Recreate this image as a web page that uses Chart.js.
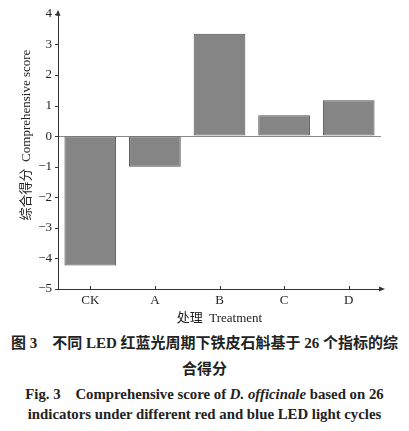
<!DOCTYPE html>
<html>
<head>
<meta charset="utf-8">
<script src="https://cdn.jsdelivr.net/npm/chart.js@4.4.0/dist/chart.umd.min.js"></script>
<style>
  html, body { margin: 0; padding: 0; background: #fff; }
  #wrap { position: relative; width: 409px; height: 431px; overflow: hidden; }
  #box { position: absolute; left: 0; top: 0; width: 409px; height: 330px; }
  .cap { position: absolute; left: 0; width: 409px; text-align: center; color: #222;
         font-family: "Liberation Serif", "Noto Sans CJK SC", serif; font-weight: bold; white-space: nowrap; }
  .zh { font-size: 15px; }
  .en { font-size: 14.8px; }
</style>
</head>
<body>
<div id="wrap">
  <div id="box"><canvas id="chart"></canvas></div>
  <div class="cap zh" style="top:331px">图 3　不同 LED 红蓝光周期下铁皮石斛基于 26 个指标的综</div>
  <div class="cap zh" style="top:357px">合得分</div>
  <div class="cap en" style="top:382px">Fig. 3　Comprehensive score of <i>D. officinale</i> based on 26</div>
  <div class="cap en" style="top:406px">indicators under different red and blue LED light cycles</div>
</div>
<script>
// data
const treatments = ['CK', 'A', 'B', 'C', 'D'];
const scores = [-4.23, -1.0, 3.35, 0.68, 1.17];
const yTicks = [-5, -4, -3, -2, -1, 0, 1, 2, 3, 4];

const serif = '"Liberation Serif", "Noto Sans CJK SC", serif';
const axisInk = '#333';

// arrows, inner ticks and the rotated y title
const axisDecor = {
    id: 'axisDecor',
    afterDraw(chart) {
        const { ctx, chartArea: a, scales: { x, y } } = chart;
        ctx.save();
        ctx.strokeStyle = axisInk;
        ctx.fillStyle = axisInk;
        ctx.lineWidth = 1;
        // x ticks pointing up
        treatments.forEach((t, i) => {
            const px = Math.round(x.getPixelForValue(i)) + 0.5;
            ctx.beginPath();
            ctx.moveTo(px, a.bottom);
            ctx.lineTo(px, a.bottom - 3);
            ctx.stroke();
        });
        // y ticks pointing out
        yTicks.forEach(v => {
            const py = Math.round(y.getPixelForValue(v)) + 0.5;
            ctx.beginPath();
            ctx.moveTo(a.left - 3, py);
            ctx.lineTo(a.left, py);
            ctx.stroke();
        });
        // arrow heads
        ctx.beginPath();
        ctx.moveTo(a.left, a.top - 4);
        ctx.lineTo(a.left - 2.5, a.top + 2);
        ctx.lineTo(a.left + 2.5, a.top + 2);
        ctx.closePath();
        ctx.fill();
        ctx.beginPath();
        ctx.moveTo(a.right + 4, a.bottom);
        ctx.lineTo(a.right - 2, a.bottom - 2.5);
        ctx.lineTo(a.right - 2, a.bottom + 2.5);
        ctx.closePath();
        ctx.fill();
        // y title
        ctx.translate(27, 135);
        ctx.rotate(-Math.PI / 2);
        ctx.textAlign = 'center';
        ctx.textBaseline = 'middle';
        ctx.fillStyle = '#222';
        ctx.font = '13px ' + serif;
        ctx.fillText('综合得分  Comprehensive score', 0, 0);
        ctx.restore();
    }
};

document.addEventListener('DOMContentLoaded', () => {
    new Chart(document.getElementById('chart'), {
        type: 'bar',
        data: {
            labels: treatments,
            datasets: [{
                data: scores,
                backgroundColor: '#858585',
                borderColor: '#505050',
                borderWidth: 1,
                borderSkipped: false,
                barPercentage: 0.8,
                categoryPercentage: 1
            }]
        },
        options: {
            responsive: true,
            maintainAspectRatio: false,
            animation: false,
            devicePixelRatio: 1,
            layout: { padding: { top: 11, right: 28, left: 0, bottom: 0 } },
            plugins: { legend: { display: false }, tooltip: { enabled: false } },
            scales: {
                x: {
                    grid: { display: false, drawTicks: false },
                    border: { display: true, color: axisInk, width: 1 },
                    ticks: { color: '#222', font: { family: serif, size: 13 }, padding: 4 },
                    title: {
                        display: true, text: '处理  Treatment', color: '#222',
                        font: { family: serif, size: 13 }, padding: { top: 0, bottom: 4 }
                    },
                    afterFit: s => { s.height = 41; }
                },
                y: {
                    min: -5, max: 4,
                    afterBuildTicks: s => { s.ticks = yTicks.map(v => ({ value: v })); },
                    grid: {
                        drawTicks: false,
                        color: c => (c.tick && c.tick.value === 0 ? '#8a8a8a' : 'rgba(0,0,0,0)')
                    },
                    border: { display: true, color: axisInk, width: 1 },
                    ticks: {
                        color: '#222', font: { family: serif, size: 13 }, padding: 6,
                        callback: v => String(v).replace('-', '\u2212')
                    },
                    afterFit: s => { s.width = 58; }
                }
            }
        },
        plugins: [axisDecor]
    });
});
</script>
</body>
</html>
